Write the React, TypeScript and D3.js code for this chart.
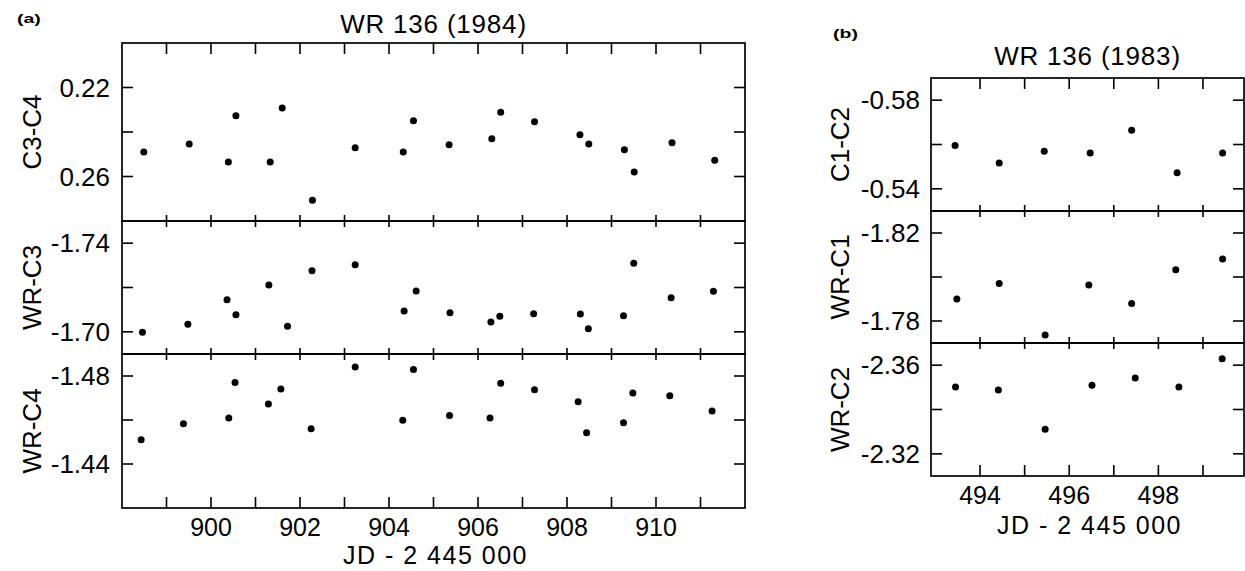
import React from "react";
import * as d3 from "d3";

// ---------- Panel (a): WR 136 (1984) ----------
const jdC3C4 = [898.49, 899.51, 900.39, 900.56, 901.33, 901.6, 902.28, 903.24, 904.32, 904.55, 905.35, 906.31, 906.51, 907.27, 908.29, 908.49, 909.29, 909.51, 910.36, 911.32];
const valC3C4 = [0.249, 0.2454, 0.2535, 0.2327, 0.2535, 0.2292, 0.2707, 0.2471, 0.249, 0.2349, 0.2457, 0.243, 0.2311, 0.2354, 0.2412, 0.2454, 0.248, 0.258, 0.2448, 0.2527];

const jdWRC3 = [898.46, 899.48, 900.36, 900.56, 901.3, 901.72, 902.27, 903.24, 904.34, 904.61, 905.37, 906.29, 906.49, 907.25, 908.3, 908.48, 909.27, 909.5, 910.34, 911.29];
const valWRC3 = [-1.6998, -1.7034, -1.7145, -1.7077, -1.7211, -1.7025, -1.7276, -1.7303, -1.7094, -1.7184, -1.7086, -1.7044, -1.707, -1.7082, -1.708, -1.7014, -1.7073, -1.7309, -1.7154, -1.7183];

const jdWRC4 = [898.43, 899.38, 900.4, 900.54, 901.29, 901.57, 902.25, 903.24, 904.31, 904.55, 905.36, 906.27, 906.51, 907.27, 908.25, 908.44, 909.27, 909.48, 910.31, 911.26];
const valWRC4 = [-1.451, -1.4583, -1.4609, -1.477, -1.4673, -1.4741, -1.456, -1.4841, -1.4599, -1.483, -1.462, -1.4609, -1.4767, -1.4738, -1.4683, -1.4542, -1.4588, -1.4723, -1.471, -1.4641];

const xTicksA = [899, 900, 901, 902, 903, 904, 905, 906, 907, 908, 909, 910, 911];
const xLabelsA = [900, 902, 904, 906, 908, 910];

// ---------- Panel (b): WR 136 (1983) ----------
const jdC1C2 = [493.44, 494.43, 495.44, 496.47, 497.4, 498.42, 499.44];
const valC1C2 = [-0.5596, -0.5517, -0.5569, -0.5562, -0.5664, -0.5473, -0.5562];

const jdWRC1 = [493.48, 494.43, 495.46, 496.44, 497.4, 498.39, 499.44];
const valWRC1 = [-1.79, -1.7971, -1.7736, -1.7964, -1.788, -1.8033, -1.8082];

const jdWRC2 = [493.45, 494.41, 495.46, 496.51, 497.48, 498.46, 499.43];
const valWRC2 = [-2.3502, -2.3488, -2.3311, -2.3509, -2.3542, -2.3502, -2.3629];

const xTicksB = [494, 495, 496, 497, 498, 499];
const xLabelsB = [494, 496, 498];

const FONT = "'Liberation Sans', Arial, Helvetica, sans-serif";

type Sub = {
  top: number;
  bottom: number;
  domain: [number, number];
  ticks: number[];
  labels: string[];
  name: string;
  xs: number[];
  ys: number[];
};

type Panel = {
  left: number;
  right: number;
  xDomain: [number, number];
  xTicks: number[];
  xLabels: number[];
  title: string;
  titleY: number;
  tag: string;
  tagX: number;
  tagY: number;
  yLabelX: number;
  tickLabelGap: number;
  xLabelY: number;
  axisTitleY: number;
  subs: Sub[];
};

const panels: Panel[] = [
  {
    left: 122,
    right: 745,
    xDomain: [898, 912],
    xTicks: xTicksA,
    xLabels: xLabelsA,
    title: "WR 136 (1984)",
    titleY: 33,
    tag: "(a)",
    tagX: 17,
    tagY: 23,
    yLabelX: 41,
    tickLabelGap: 12,
    xLabelY: 536,
    axisTitleY: 564,
    subs: [
      { top: 43, bottom: 221, domain: [0.2, 0.28], ticks: [0.22, 0.24, 0.26], labels: ["0.22", "", "0.26"], name: "C3-C4", xs: jdC3C4, ys: valC3C4 },
      { top: 221, bottom: 354, domain: [-1.75, -1.69], ticks: [-1.74, -1.72, -1.7], labels: ["-1.74", "", "-1.70"], name: "WR-C3", xs: jdWRC3, ys: valWRC3 },
      { top: 354, bottom: 508, domain: [-1.49, -1.42], ticks: [-1.48, -1.46, -1.44], labels: ["-1.48", "", "-1.44"], name: "WR-C4", xs: jdWRC4, ys: valWRC4 },
    ],
  },
  {
    left: 931,
    right: 1244,
    xDomain: [492.9, 499.92],
    xTicks: xTicksB,
    xLabels: xLabelsB,
    title: "WR 136 (1983)",
    titleY: 65,
    tag: "(b)",
    tagX: 833,
    tagY: 38,
    yLabelX: 849,
    tickLabelGap: 11,
    xLabelY: 504,
    axisTitleY: 534,
    subs: [
      { top: 78, bottom: 211, domain: [-0.59, -0.53], ticks: [-0.58, -0.56, -0.54], labels: ["-0.58", "", "-0.54"], name: "C1-C2", xs: jdC1C2, ys: valC1C2 },
      { top: 211, bottom: 343, domain: [-1.83, -1.77], ticks: [-1.82, -1.8, -1.78], labels: ["-1.82", "", "-1.78"], name: "WR-C1", xs: jdWRC1, ys: valWRC1 },
      { top: 343, bottom: 476, domain: [-2.37, -2.31], ticks: [-2.36, -2.34, -2.32], labels: ["-2.36", "", "-2.32"], name: "WR-C2", xs: jdWRC2, ys: valWRC2 },
    ],
  },
];

function PanelView({ p }: { p: Panel }) {
  const x = d3.scaleLinear().domain(p.xDomain).range([p.left, p.right]);
  const cx = (p.left + p.right) / 2;
  const last = p.subs.length - 1;
  return (
    <g>
      <text
        transform={`translate(${p.tagX},${p.tagY}) scale(1.5,1)`}
        fontSize={13}
        fontWeight="bold"
        fontFamily={FONT}
      >
        {p.tag}
      </text>
      <text x={cx} y={p.titleY} fontSize={26} textAnchor="middle" fontFamily={FONT} letterSpacing={0.8}>
        {p.title}
      </text>
      {p.subs.map((s, i) => {
        const y = d3.scaleLinear().domain(s.domain).range([s.top, s.bottom]);
        const mid = (s.top + s.bottom) / 2;
        return (
          <g key={s.name}>
            <rect x={p.left} y={s.top} width={p.right - p.left} height={s.bottom - s.top} fill="none" stroke="#000" strokeWidth={1.7} />
            {p.xTicks.map((t) => (
              <line
                key={"t" + t}
                x1={x(t)}
                x2={x(t)}
                y1={i === 0 ? s.top : s.top - 6}
                y2={i === 0 ? s.top + 11 : s.top + 6}
                stroke="#000"
                strokeWidth={1.6}
              />
            ))}
            {i === last &&
              p.xTicks.map((t) => (
                <line key={"b" + t} x1={x(t)} x2={x(t)} y1={s.bottom} y2={s.bottom - 11} stroke="#000" strokeWidth={1.6} />
              ))}
            {s.ticks.map((t, k) => (
              <g key={"y" + t}>
                <line x1={p.left} x2={p.left + 11} y1={y(t)} y2={y(t)} stroke="#000" strokeWidth={1.6} />
                <line x1={p.right} x2={p.right - 11} y1={y(t)} y2={y(t)} stroke="#000" strokeWidth={1.6} />
                {s.labels[k] && (
                  <text x={p.left - p.tickLabelGap} y={y(t)} dy="0.35em" fontSize={26} textAnchor="end" fontFamily={FONT}>
                    {s.labels[k]}
                  </text>
                )}
              </g>
            ))}
            <text
              transform={`translate(${p.yLabelX},${mid}) rotate(-90)`}
              fontSize={26}
              textAnchor="middle"
              fontFamily={FONT}
            >
              {s.name}
            </text>
            {s.xs.map((d, k) => (
              <circle key={k} cx={x(d)} cy={y(s.ys[k])} r={3.5} fill="#000" />
            ))}
          </g>
        );
      })}
      {p.xLabels.map((t) => (
        <text key={"xl" + t} x={x(t)} y={p.xLabelY} fontSize={25} textAnchor="middle" fontFamily={FONT}>
          {t}
        </text>
      ))}
      <text x={cx + 2} y={p.axisTitleY} fontSize={25} textAnchor="middle" fontFamily={FONT} letterSpacing={1.5}>
        JD - 2 445 000
      </text>
    </g>
  );
}

export default function App() {
  return (
    <svg
      width={1245}
      height={571}
      viewBox="0 0 1245 571"
      style={{ position: "absolute", left: 0, top: 0, background: "#fff" }}
    >
      <rect x={0} y={0} width={1245} height={571} fill="#fff" />
      {panels.map((p) => (
        <PanelView key={p.title} p={p} />
      ))}
    </svg>
  );
}
